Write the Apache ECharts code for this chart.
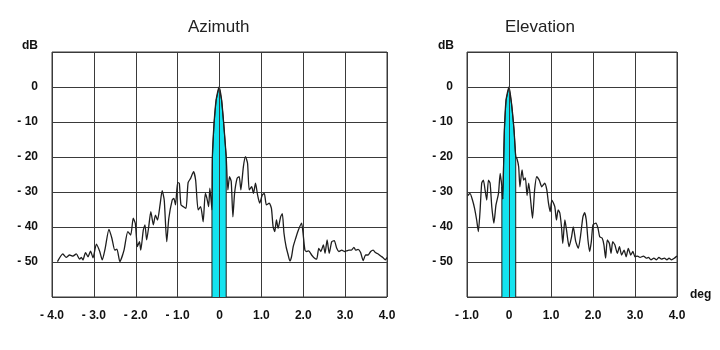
<!DOCTYPE html>
<html>
<head>
<meta charset="utf-8">
<script src="https://cdn.jsdelivr.net/npm/echarts@6/dist/echarts.min.js"></script>
<style>
  html, body { margin: 0; padding: 0; background: #fff; }
  #chart { width: 720px; height: 350px; }
</style>
</head>
<body>
<div id="chart"></div>
<script>
// Azimuth antenna pattern: angle (deg) and level (dB)
const azAngle = [
  -3.87, -3.74, -3.66, -3.58, -3.50, -3.42, -3.34, -3.30, -3.26, -3.20,
  -3.14, -3.08, -3.02, -2.94, -2.86, -2.80, -2.73, -2.64, -2.57, -2.50,
  -2.45, -2.38, -2.28, -2.19, -2.12, -2.06, -2.01, -1.96, -1.91, -1.88,
  -1.82, -1.78, -1.74, -1.69, -1.64, -1.58, -1.53, -1.48, -1.42, -1.37,
  -1.32, -1.26, -1.21, -1.13, -1.09, -1.05, -1.00, -0.96, -0.92, -0.86,
  -0.80, -0.75, -0.69, -0.62, -0.57, -0.51, -0.45, -0.39, -0.34, -0.30,
  -0.26, -0.23, -0.18, -0.17, -0.13, -0.08, -0.01, 0.05, 0.10, 0.16,
  0.20, 0.24, 0.28, 0.32, 0.36, 0.42, 0.47, 0.51, 0.57, 0.62,
  0.67, 0.71, 0.77, 0.81, 0.86, 0.91, 0.96, 1.02, 1.07, 1.12,
  1.19, 1.24, 1.28, 1.32, 1.36, 1.40, 1.46, 1.50, 1.54, 1.59,
  1.64, 1.68, 1.72, 1.76, 1.82, 1.88, 1.96, 2.00, 2.04, 2.08,
  2.13, 2.20, 2.25, 2.32, 2.37, 2.42, 2.48, 2.52, 2.57, 2.62,
  2.68, 2.74, 2.80, 2.85, 2.92, 2.98, 3.04, 3.09, 3.15, 3.21,
  3.25, 3.31, 3.37, 3.43, 3.49, 3.55, 3.61, 3.67, 3.72, 3.79,
  3.85, 3.90, 3.96, 4.00
];
const azLevel = [
  -49.9, -47.7, -48.7, -48.0, -48.3, -47.7, -49.2, -48.7, -49.4, -47.3,
  -48.5, -46.9, -48.8, -44.9, -47.0, -49.4, -46.1, -40.7, -43.2, -46.6,
  -46.3, -49.9, -46.6, -41.3, -42.3, -37.5, -39.0, -45.6, -44.2, -46.6,
  -40.9, -39.4, -43.7, -39.9, -35.6, -39.4, -36.6, -38.0, -33.7, -29.6,
  -32.3, -44.2, -37.5, -32.3, -31.8, -33.7, -27.3, -27.5, -33.7, -34.2,
  -34.7, -27.3, -26.1, -24.2, -26.6, -35.1, -34.2, -38.5, -30.4, -31.8,
  -34.2, -28.9, -35.1, -20.0, -10.4, -3.7, 0.0, -3.7, -10.4, -19.9,
  -29.4, -25.6, -27.0, -37.1, -30.4, -26.1, -25.6, -29.4, -22.8, -19.9,
  -21.8, -29.4, -28.5, -30.4, -27.5, -30.9, -33.2, -30.9, -30.4, -33.7,
  -33.2, -34.7, -39.9, -41.3, -38.0, -40.4, -37.1, -36.2, -41.8, -45.6,
  -48.0, -49.7, -48.5, -45.6, -43.2, -41.0, -38.9, -42.3, -46.6, -47.0,
  -46.8, -48.0, -48.7, -49.2, -46.1, -47.0, -45.1, -47.5, -43.7, -47.5,
  -44.2, -43.9, -46.1, -47.0, -46.6, -47.0, -46.8, -46.6, -46.6, -45.8,
  -46.6, -46.4, -47.3, -49.6, -48.0, -48.0, -47.0, -46.6, -47.3, -47.7,
  -48.3, -48.7, -49.4, -48.7
];

// Elevation antenna pattern: angle (deg) and level (dB)
const elAngle = [
  -0.98, -0.93, -0.87, -0.82, -0.77, -0.73, -0.69, -0.65, -0.61, -0.57,
  -0.53, -0.49, -0.45, -0.41, -0.36, -0.31, -0.25, -0.21, -0.17, -0.15,
  -0.11, -0.07, 0.00, 0.06, 0.12, 0.16, 0.19, 0.23, 0.26, 0.31,
  0.35, 0.39, 0.43, 0.47, 0.52, 0.56, 0.61, 0.66, 0.72, 0.78,
  0.85, 0.90, 0.94, 0.98, 1.02, 1.09, 1.13, 1.17, 1.21, 1.25,
  1.28, 1.33, 1.37, 1.43, 1.49, 1.53, 1.59, 1.65, 1.70, 1.76,
  1.80, 1.84, 1.88, 1.92, 1.96, 2.00, 2.07, 2.12, 2.16, 2.22,
  2.26, 2.30, 2.34, 2.39, 2.43, 2.47, 2.52, 2.58, 2.63, 2.68,
  2.74, 2.79, 2.84, 2.90, 2.95, 3.00, 3.06, 3.12, 3.20, 3.27,
  3.32, 3.38, 3.45, 3.51, 3.57, 3.63, 3.70, 3.76, 3.81, 3.87,
  3.94, 4.00
];
const elLevel = [
  -31.0, -30.4, -32.3, -34.7, -38.0, -41.3, -35.6, -27.5, -26.6, -29.4,
  -32.3, -26.6, -27.5, -34.2, -38.9, -33.7, -30.4, -24.7, -28.5, -32.0,
  -12.3, -3.7, 0.0, -4.7, -12.3, -19.9, -20.5, -22.8, -28.5, -23.7,
  -26.6, -26.0, -31.0, -27.5, -33.0, -37.5, -29.4, -25.6, -26.6, -28.5,
  -27.5, -29.4, -33.2, -35.6, -32.3, -34.2, -38.0, -35.1, -36.0, -40.0,
  -44.7, -38.0, -40.9, -45.6, -42.8, -40.0, -44.2, -46.1, -42.8, -37.1,
  -35.9, -38.0, -43.7, -47.0, -44.2, -39.4, -38.9, -40.4, -42.8, -43.2,
  -45.1, -48.9, -43.7, -44.7, -47.5, -44.2, -45.1, -47.5, -45.6, -48.0,
  -46.6, -48.5, -46.1, -48.0, -47.0, -48.5, -48.3, -48.7, -48.3, -48.9,
  -48.7, -49.4, -48.9, -49.4, -48.7, -49.2, -48.9, -49.4, -48.9, -49.4,
  -48.9, -48.3
];

// Main-lobe (beamwidth) band limits, deg
const azBand = [-0.18, 0.16];
const elBand = [-0.17, 0.16];

// Tick labels
const dbTicks = [0, -10, -20, -30, -40, -50];
const azTicks = [-4, -3, -2, -1, 0, 1, 2, 3, 4];
const elTicks = [-1, 0, 1, 2, 3, 4];

const DB_MIN = -60, DB_MAX = 10;
const FONT = '"Liberation Sans", Arial, sans-serif';
const INK = '#1e1e1e';
const GRIDC = '#3a3a3a';
const CYAN = '#14e3ef';

function pairs(xs, ys) { return xs.map((x, i) => [x, ys[i]]); }
function bandPoly(xs, ys, band) {
  const inside = pairs(xs, ys).filter(p => p[0] >= band[0] && p[0] <= band[1]);
  return [[band[0], DB_MIN]].concat(inside, [[band[1], DB_MIN]]);
}
function fmtDeg(v) {
  if (v === 0) return '0';
  return v < 0 ? '- ' + Math.abs(v).toFixed(1) : v.toFixed(1);
}
function fmtDb(v) {
  if (dbTicks.indexOf(v) < 0) return '';
  return v === 0 ? '0' : '- ' + Math.abs(v);
}

const labelStyle = { color: '#111', fontFamily: FONT, fontWeight: 'bold', fontSize: 12 };

function xAxisFor(idx, ticks) {
  return {
    type: 'value', gridIndex: idx,
    min: ticks[0], max: ticks[ticks.length - 1], interval: 1,
    axisLine: { show: false }, axisTick: { show: false },
    splitLine: { show: true, lineStyle: { color: GRIDC, width: 1 } },
    axisLabel: Object.assign({ margin: 13, formatter: fmtDeg, showMinLabel: true, showMaxLabel: true }, labelStyle)
  };
}
function yAxisFor(idx) {
  return {
    type: 'value', gridIndex: idx,
    min: DB_MIN, max: DB_MAX, interval: 10,
    axisLine: { show: false }, axisTick: { show: false },
    splitLine: { show: true, lineStyle: { color: GRIDC, width: 1 } },
    axisLabel: Object.assign({ margin: 14, formatter: fmtDb }, labelStyle)
  };
}
function bandSeries(idx, xs, ys, band) {
  return {
    type: 'line', xAxisIndex: idx, yAxisIndex: idx, z: 2,
    data: bandPoly(xs, ys, band),
    symbol: 'none', silent: true,
    lineStyle: { color: INK, width: 1 },
    areaStyle: { color: CYAN, opacity: 1, origin: 'start' },
    markLine: {
      silent: true, symbol: 'none', label: { show: false },
      lineStyle: { color: GRIDC, width: 1, type: 'solid' },
      data: [{ xAxis: 0 }]
    }
  };
}
function curveSeries(idx, xs, ys) {
  return {
    type: 'line', xAxisIndex: idx, yAxisIndex: idx, z: 3,
    data: pairs(xs, ys),
    symbol: 'none', smooth: 0.2, silent: true,
    lineStyle: { color: INK, width: 1.3 }
  };
}

const chart = echarts.init(document.getElementById('chart'), null, { renderer: 'canvas' });
chart.setOption({
  animation: false,
  backgroundColor: '#fff',
  grid: [
    { left: 52, top: 52, width: 335, height: 245, show: true, borderColor: GRIDC, borderWidth: 1, backgroundColor: 'transparent' },
    { left: 467, top: 52, width: 210, height: 245, show: true, borderColor: GRIDC, borderWidth: 1, backgroundColor: 'transparent' }
  ],
  xAxis: [xAxisFor(0, azTicks), xAxisFor(1, elTicks)],
  yAxis: [yAxisFor(0), yAxisFor(1)],
  series: [
    bandSeries(0, azAngle, azLevel, azBand),
    curveSeries(0, azAngle, azLevel),
    bandSeries(1, elAngle, elLevel, elBand),
    curveSeries(1, elAngle, elLevel)
  ],
  graphic: [
    { type: 'text', left: 188, top: 19, style: { text: 'Azimuth', fill: '#222', font: '17px ' + FONT } },
    { type: 'text', left: 505, top: 19, style: { text: 'Elevation', fill: '#222', font: '17px ' + FONT } },
    { type: 'text', left: 22, top: 40, style: { text: 'dB', fill: '#111', font: 'bold 12px ' + FONT } },
    { type: 'text', left: 438, top: 40, style: { text: 'dB', fill: '#111', font: 'bold 12px ' + FONT } },
    { type: 'text', left: 690, top: 289, style: { text: 'deg', fill: '#111', font: 'bold 12px ' + FONT } }
  ]
});
</script>
</body>
</html>
